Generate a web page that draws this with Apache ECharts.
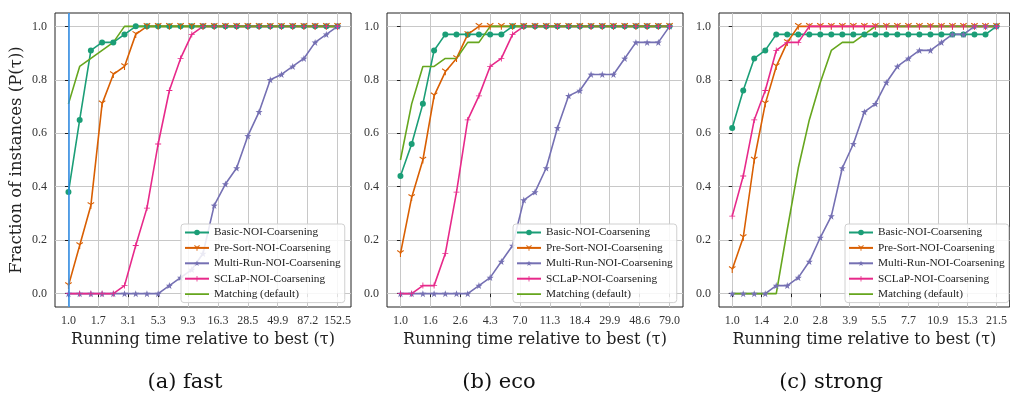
<!DOCTYPE html>
<html>
<head>
<meta charset="utf-8">
<script src="https://cdn.jsdelivr.net/npm/echarts@6/dist/echarts.min.js"></script>
<style>
  html, body { margin: 0; padding: 0; background: #fff; }
  #chart { width: 1010px; height: 396px; }
</style>
</head>
<body>
<div id="chart"></div>
<script>
// tick labels of the running time axis (tau), one list per panel
const fastTicks = ['1.0', '1.7', '3.1', '5.3', '9.3', '16.3', '28.5', '49.9', '87.2', '152.5']
const ecoTicks = ['1.0', '1.6', '2.6', '4.3', '7.0', '11.3', '18.4', '29.9', '48.6', '79.0']
const strongTicks = ['1.0', '1.4', '2.0', '2.8', '3.9', '5.5', '7.7', '10.9', '15.3', '21.5']
const yTicks = [0, 0.2, 0.4, 0.6, 0.8, 1.0]

const seriesNames = [
  'Basic-NOI-Coarsening',
  'Pre-Sort-NOI-Coarsening',
  'Multi-Run-NOI-Coarsening',
  'SCLaP-NOI-Coarsening',
  'Matching (default)',
]

// fraction of instances, 25 samples per profile
const basicFast = [0.38, 0.65, 0.91, 0.94, 0.94, 0.97, 1, 1, 1, 1, 1, 1, 1, 1, 1, 1, 1, 1, 1, 1, 1, 1, 1, 1, 1]
const presortFast = [0.03, 0.18, 0.33, 0.71, 0.82, 0.85, 0.97, 1, 1, 1, 1, 1, 1, 1, 1, 1, 1, 1, 1, 1, 1, 1, 1, 1, 1]
const multiFast = [0, 0, 0, 0, 0, 0, 0, 0, 0, 0.03, 0.06, 0.09, 0.15, 0.33, 0.41, 0.47, 0.59, 0.68, 0.8, 0.82, 0.85, 0.88, 0.94, 0.97, 1]
const sclapFast = [0, 0, 0, 0, 0, 0.03, 0.18, 0.32, 0.56, 0.76, 0.88, 0.97, 1, 1, 1, 1, 1, 1, 1, 1, 1, 1, 1, 1, 1]
const matchFast = [0.71, 0.85, 0.88, 0.91, 0.94, 1, 1, 1, 1, 1, 1, 1, 1, 1, 1, 1, 1, 1, 1, 1, 1, 1, 1, 1, 1]

const basicEco = [0.44, 0.56, 0.71, 0.91, 0.97, 0.97, 0.97, 0.97, 0.97, 0.97, 1, 1, 1, 1, 1, 1, 1, 1, 1, 1, 1, 1, 1, 1, 1]
const presortEco = [0.15, 0.36, 0.5, 0.74, 0.83, 0.88, 0.97, 1, 1, 1, 1, 1, 1, 1, 1, 1, 1, 1, 1, 1, 1, 1, 1, 1, 1]
const multiEco = [0, 0, 0, 0, 0, 0, 0, 0.03, 0.06, 0.12, 0.18, 0.35, 0.38, 0.47, 0.62, 0.74, 0.76, 0.82, 0.82, 0.82, 0.88, 0.94, 0.94, 0.94, 1]
const sclapEco = [0, 0, 0.03, 0.03, 0.15, 0.38, 0.65, 0.74, 0.85, 0.88, 0.97, 1, 1, 1, 1, 1, 1, 1, 1, 1, 1, 1, 1, 1, 1]
const matchEco = [0.5, 0.71, 0.85, 0.85, 0.88, 0.88, 0.94, 0.94, 1, 1, 1, 1, 1, 1, 1, 1, 1, 1, 1, 1, 1, 1, 1, 1, 1]

const basicStrong = [0.62, 0.76, 0.88, 0.91, 0.97, 0.97, 0.97, 0.97, 0.97, 0.97, 0.97, 0.97, 0.97, 0.97, 0.97, 0.97, 0.97, 0.97, 0.97, 0.97, 0.97, 0.97, 0.97, 0.97, 1]
const presortStrong = [0.09, 0.21, 0.5, 0.71, 0.85, 0.94, 1, 1, 1, 1, 1, 1, 1, 1, 1, 1, 1, 1, 1, 1, 1, 1, 1, 1, 1]
const multiStrong = [0, 0, 0, 0, 0.03, 0.03, 0.06, 0.12, 0.21, 0.29, 0.47, 0.56, 0.68, 0.71, 0.79, 0.85, 0.88, 0.91, 0.91, 0.94, 0.97, 0.97, 1, 1, 1]
const sclapStrong = [0.29, 0.44, 0.65, 0.76, 0.91, 0.94, 0.94, 1, 1, 1, 1, 1, 1, 1, 1, 1, 1, 1, 1, 1, 1, 1, 1, 1, 1]
const matchStrong = [0, 0, 0, 0, 0, 0.24, 0.47, 0.65, 0.79, 0.91, 0.94, 0.94, 0.97, 1, 1, 1, 1, 1, 1, 1, 1, 1, 1, 1, 1]

const panels = [
  { ticks: fastTicks, caption: '(a) fast', data: [basicFast, presortFast, multiFast, sclapFast, matchFast] },
  { ticks: ecoTicks, caption: '(b) eco', data: [basicEco, presortEco, multiEco, sclapEco, matchEco] },
  { ticks: strongTicks, caption: '(c) strong', data: [basicStrong, presortStrong, multiStrong, sclapStrong, matchStrong] },
]

const colors = ['#1b9e77', '#d95f02', '#7570b3', '#e7298a', '#66a61e']
const symbols = [
  'circle',
  'path://M4.3,5 L4.3,10 L5.7,10 L5.7,5 L9.6,2.6 L8.9,1.4 L5,3.8 L1.1,1.4 L0.4,2.6 Z', // tri_down
  'path://M5,0 L6.2,3.6 L10,3.7 L7,6 L8.1,9.6 L5,7.4 L1.9,9.6 L3,6 L0,3.7 L3.8,3.6 Z', // star
  'path://M4.3,0 H5.7 V4.3 H10 V5.7 H5.7 V10 H4.3 V5.7 H0 V4.3 H4.3 Z', // plus
  'none',
]
const symbolSizes = [6, 7, 7, 6, 0]
// plain line icon for the marker-less series (tiny corner dots keep the box 24x7)
const lineIcon = 'path://M0,0 H0.01 V0.01 H0 Z M0,2.7 H24 V4.3 H0 Z M23.99,6.99 H24 V7 H23.99 Z'

const serif = '"Liberation Serif", "DejaVu Serif", serif'
const wideSerif = '"DejaVu Serif", "Liberation Serif", serif'
const gridLefts = [55, 387, 719]
const nPoints = 25
const lastIdx = nPoints - 1

let grids = []
let xAxes = []
let yAxes = []
let series = []
let legends = []
let graphics = []

panels.forEach((p, g) => {
  const tickPos = p.ticks.map((t, k) => (k * lastIdx) / (p.ticks.length - 1))
  grids.push({
    left: gridLefts[g],
    top: 13,
    width: 296,
    height: 294,
    show: true,
    borderColor: '#222',
    borderWidth: 1,
    backgroundColor: 'transparent',
  })
  xAxes.push({
    type: 'value',
    gridIndex: g,
    min: -1.2,
    max: lastIdx + 1.2,
    name: 'Running time relative to best (τ)',
    nameLocation: 'middle',
    nameGap: 22,
    nameTextStyle: { fontFamily: wideSerif, fontSize: 16, color: '#222' },
    axisLine: { show: false },
    axisTick: { show: true, inside: false, length: 3.5, customValues: tickPos, lineStyle: { color: '#222' } },
    axisLabel: {
      customValues: tickPos,
      fontFamily: serif,
      fontSize: 12,
      color: '#333',
      margin: 8,
      formatter: (v) => p.ticks[Math.round((v * (p.ticks.length - 1)) / lastIdx)],
    },
    splitLine: { show: true, lineStyle: { color: '#c8c8c8', width: 1 } },
  })
  yAxes.push({
    type: 'value',
    gridIndex: g,
    min: -0.05,
    max: 1.05,
    name: g === 0 ? 'Fraction of instances (P(τ))' : '',
    nameLocation: 'middle',
    nameGap: 30,
    nameTextStyle: { fontFamily: wideSerif, fontSize: 16.5, color: '#222' },
    axisLine: { show: false },
    axisTick: { show: true, length: 3.5, customValues: yTicks, lineStyle: { color: '#222' } },
    axisLabel: {
      customValues: yTicks,
      fontFamily: serif,
      fontSize: 12,
      color: '#333',
      margin: 8,
      formatter: (v) => v.toFixed(1),
    },
    splitLine: { show: true, lineStyle: { color: '#c8c8c8', width: 1 } },
  })
  p.data.forEach((ys, s) => {
    let ser = {
      name: seriesNames[s],
      type: 'line',
      xAxisIndex: g,
      yAxisIndex: g,
      data: ys.map((y, i) => [i, y]),
      symbol: symbols[s],
      symbolSize: symbolSizes[s],
      showSymbol: s !== 4,
      color: colors[s],
      lineStyle: { color: colors[s], width: 1.6 },
      itemStyle: { color: colors[s] },
      animation: false,
    }
    // blue vertical marker at tau = 1 in the first panel
    if (g === 0 && s === 0) {
      ser.markLine = {
        silent: true,
        symbol: 'none',
        label: { show: false },
        lineStyle: { color: '#2a8be8', width: 1.5, type: 'solid' },
        data: [{ xAxis: 0 }],
      }
    }
    series.push(ser)
  })
  legends.push({
    data: seriesNames.map((n, s) => (s === 4 ? { name: n, icon: lineIcon } : n)),
    orient: 'vertical',
    left: gridLefts[g] + 126,
    top: 224,
    itemWidth: 24,
    itemHeight: 7,
    itemGap: 4.4,
    padding: [3, 4, 3, 3],
    backgroundColor: 'rgba(255,255,255,0.85)',
    borderColor: '#d0d0d0',
    borderWidth: 1,
    borderRadius: 3,
    textStyle: { fontFamily: serif, fontSize: 11.3, color: '#222' },
  })
})

const captionX = [185, 499, 831]
panels.forEach((p, g) => {
  graphics.push({
    type: 'text',
    x: captionX[g],
    y: 383,
    style: {
      text: p.caption,
      font: '21px ' + wideSerif,
      fill: '#111',
      textAlign: 'center',
      textVerticalAlign: 'middle',
    },
  })
})

let mychart = echarts.init(document.getElementById('chart'))
let option = {
  animation: false,
  grid: grids,
  xAxis: xAxes,
  yAxis: yAxes,
  legend: legends,
  graphic: graphics,
  series: series,
}
mychart.setOption(option)
</script>
</body>
</html>
